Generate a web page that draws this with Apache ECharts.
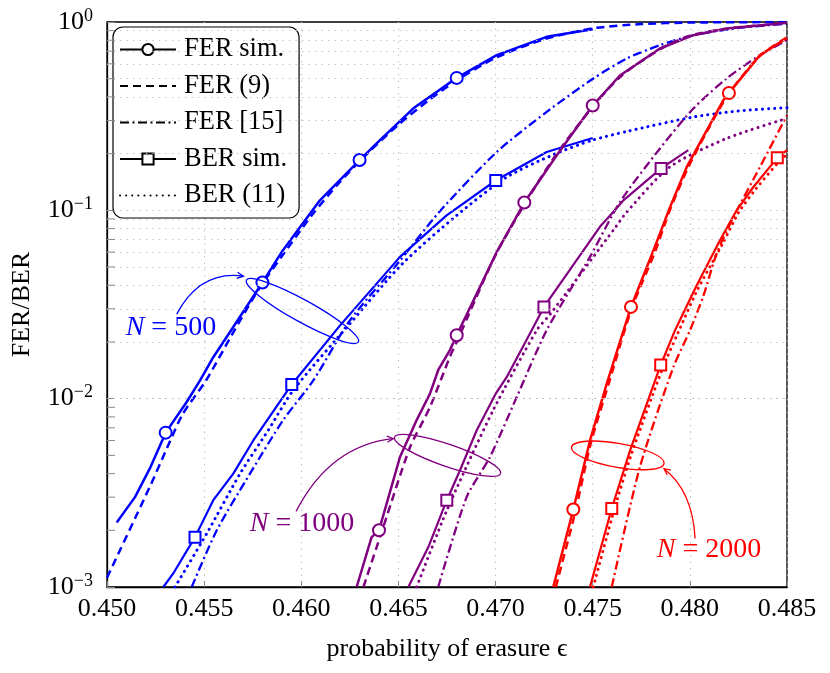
<!DOCTYPE html>
<html><head><meta charset="utf-8">
<script src="https://cdn.jsdelivr.net/npm/echarts@6/dist/echarts.min.js"></script>
<style>html,body{margin:0;padding:0;background:#fff}#c{width:830px;height:673px}</style>
</head><body><div id="c"></div>
<script>
// ---------------- data (epsilon, value) ----------------
const blueFerSim = [[0.4505,0.0022],[0.45144,0.0030],[0.4522,0.00425],[0.45302,0.0066],[0.4541,0.0096],[0.45479,0.0125],[0.45547,0.0166],[0.4565,0.024],[0.458,0.0414],[0.45899,0.060],[0.46096,0.113],[0.463,0.185],[0.46405,0.236],[0.46577,0.348],[0.468,0.505],[0.47006,0.667],[0.47263,0.834],[0.475,0.916]];
const blueFerSimMarks = [0.45302,0.458,0.463,0.468];
const blueFer9 = [[0.4500,0.00112],[0.4522,0.0034],[0.4531,0.0055],[0.4539,0.0083],[0.4551,0.0125],[0.4565,0.0225],[0.4578,0.038],[0.4590,0.057],[0.4605,0.093],[0.4620,0.142],[0.4635,0.205],[0.4650,0.285],[0.4665,0.38],[0.4680,0.49],[0.4700,0.645],[0.4725,0.81],[0.4750,0.925],[0.4775,0.975],[0.4800,0.993],[0.4850,1.0]];
const blueFer15 = [[0.45436,0.001],[0.45565,0.002],[0.45736,0.004],[0.45907,0.0077],[0.46062,0.0125],[0.4625,0.026],[0.46508,0.054],[0.4671,0.098],[0.47006,0.204],[0.47263,0.333],[0.47503,0.501],[0.47675,0.64],[0.47846,0.753],[0.48018,0.851],[0.4825,0.93],[0.485,0.98]];
const blueBerSim = [[0.4529,0.001],[0.45341,0.00118],[0.45453,0.00184],[0.45547,0.00289],[0.4565,0.0040],[0.45753,0.0060],[0.4586,0.0087],[0.45951,0.0119],[0.4620,0.0245],[0.46508,0.0566],[0.46748,0.094],[0.47001,0.144],[0.47263,0.204],[0.475,0.242]];
const blueBerSimMarks = [0.45453,0.45951,0.47001];
const blueBer11 = [[0.4535,0.001],[0.45513,0.00192],[0.45685,0.0040],[0.4583,0.0068],[0.45959,0.0111],[0.4625,0.025],[0.4652,0.052],[0.468,0.094],[0.47057,0.150],[0.4730,0.198],[0.475,0.236],[0.4768,0.263],[0.48018,0.313],[0.4825,0.337],[0.485,0.351]];

const purpleFerSim = [[0.46285,0.001],[0.46362,0.00184],[0.464,0.0020],[0.46508,0.0049],[0.46594,0.0077],[0.46662,0.0106],[0.46705,0.0142],[0.46765,0.0181],[0.468,0.0217],[0.47006,0.060],[0.47148,0.110],[0.47315,0.196],[0.475,0.36],[0.4764,0.52],[0.47846,0.723],[0.48018,0.851],[0.4819,0.924],[0.485,0.99]];
const purpleFerSimMarks = [0.464,0.468,0.47148,0.475];
const purpleFer9 = [[0.4632,0.001],[0.46422,0.00208],[0.46559,0.0055],[0.46662,0.009],[0.46765,0.0167],[0.4680,0.020],[0.4700,0.058],[0.4715,0.108],[0.4730,0.190],[0.4750,0.355],[0.4765,0.52],[0.4785,0.72],[0.4800,0.845],[0.4820,0.925],[0.4850,0.985]];
const purpleFer15 = [[0.46705,0.001],[0.46851,0.0030],[0.46971,0.0049],[0.47109,0.0102],[0.47263,0.0231],[0.47486,0.0566],[0.47641,0.111],[0.47846,0.213],[0.48018,0.347],[0.4819,0.502],[0.48361,0.667],[0.485,0.80]];
const purpleBerSim = [[0.46551,0.001],[0.46654,0.00163],[0.46749,0.00289],[0.46817,0.00417],[0.46903,0.0068],[0.47,0.0106],[0.47057,0.013],[0.47186,0.0231],[0.47249,0.0307],[0.47538,0.082],[0.47606,0.098],[0.47658,0.113],[0.47852,0.167],[0.47992,0.209]];
const purpleBerSimMarks = [0.46749,0.47249,0.47852];
const purpleBer11 = [[0.46594,0.001],[0.46749,0.00255],[0.46988,0.0087],[0.47212,0.0231],[0.4728,0.028],[0.4762,0.082],[0.47675,0.098],[0.47897,0.17],[0.4819,0.241],[0.485,0.308]];

const redFerSim = [[0.47297,0.001],[0.474,0.00258],[0.47486,0.0060],[0.47572,0.012],[0.47697,0.0307],[0.47812,0.061],[0.47898,0.104],[0.47984,0.17],[0.48087,0.266],[0.48172,0.384],[0.48201,0.42],[0.48361,0.667],[0.485,0.824]];
const redFerSimMarks = [0.474,0.47697,0.48201];
const redFer9 = [[0.4731,0.001],[0.4741,0.0025],[0.4749,0.0058],[0.4758,0.0118],[0.4770,0.030],[0.4782,0.060],[0.4790,0.102],[0.4799,0.168],[0.4809,0.265],[0.4820,0.415],[0.4836,0.66],[0.4850,0.83]];
const redFer15 = [[0.47598,0.001],[0.47743,0.00434],[0.47915,0.0147],[0.48001,0.0231],[0.48069,0.035],[0.48138,0.059],[0.48224,0.092],[0.48361,0.17],[0.485,0.32]];
const redBerSim = [[0.47486,0.001],[0.47598,0.00261],[0.47692,0.0053],[0.4785,0.0151],[0.47924,0.0231],[0.48031,0.0392],[0.48155,0.0694],[0.48241,0.10],[0.48327,0.133],[0.4845,0.19],[0.485,0.209]];
const redBerSimMarks = [0.47598,0.4785,0.4845];
const redBer11 = [[0.47503,0.001],[0.4761,0.00255],[0.4770,0.0051],[0.4786,0.0145],[0.4794,0.0225],[0.4804,0.038],[0.4817,0.067],[0.4825,0.097],[0.4834,0.13],[0.4846,0.182],[0.485,0.198]];

const legendNames = ['FER sim.','FER (9)','FER [15]','BER sim.','BER (11)'];
const yMinorValues = [0.002,0.003,0.004,0.005,0.006,0.007,0.008,0.009,0.02,0.03,0.04,0.05,0.06,0.07,0.08,0.09,0.2,0.3,0.4,0.5,0.6,0.7,0.8,0.9];
const yGridValues = yMinorValues.concat([0.01,0.1]);

// annotations in data coordinates
const annotations = [
  {label:'500', color:'#0000ff', text:[0.45329,0.0239], from:[0.45359,0.0281], ctrl:[0.45479,0.0481], to:[0.45702,0.0447], ell:[0.46006,0.0292], rx:64, ry:11, ang:29},
  {label:'1000', color:'#800080', text:[0.46004,0.00218], from:[0.45973,0.00252], ctrl:[0.46148,0.00566], to:[0.46474,0.00614], ell:[0.46753,0.0050], rx:56, ry:11, ang:19},
  {label:'2000', color:'#ff0000', text:[0.48099,0.00158], from:[0.48027,0.00181], ctrl:[0.48014,0.00324], to:[0.47867,0.00425], ell:[0.47629,0.0050], rx:47, ry:12, ang:10}
];

// ---------------- styles ----------------
const FONT = '"Liberation Serif","DejaVu Serif",serif';
const FS = 26;
const DASHED = [8,5];
const DASHDOT = [9,3.5,2,3.5];
const DOTTED = [0.1,6];
const SOLID = [1000,0];

function simSeries(pts, marks, color, symbol, size, width) {
  return {type:'line', silent:true, z:4,
    data: pts.map(p => marks.includes(p[0]) ? {value:p, symbol:symbol, symbolSize:size} : {value:p, symbol:'none'}),
    showSymbol:true, showAllSymbol:true,
    lineStyle:{color:color, width:width, type:SOLID, join:'round'},
    itemStyle:{color:color, borderColor:color, borderWidth:2.3}};
}
function theorySeries(pts, color, dash, width, cap) {
  return {type:'line', silent:true, z:3, data:pts, symbol:'none', smooth:0.25,
    lineStyle:{color:color, width:width, type:dash, cap:cap||'butt', join:'round'}};
}
function groupSeries(c, ferSim, ferSimM, fer9, fer15, berSim, berSimM, ber11) {
  return [
    theorySeries(fer15, c, DASHDOT, 2.3),
    theorySeries(ber11, c, DOTTED, 3, 'round'),
    theorySeries(fer9, c, DASHED, 2.5),
    simSeries(berSim, berSimM, c, 'emptyRect', 11, 2.2),
    simSeries(ferSim, ferSimM, c, 'emptyCircle', 12, 2.5)
  ];
}

const series = [];
// grid lines (dotted) through the log axis
series.push({type:'line', name:'grid', data:[], silent:true, z:1,
  markLine:{silent:true, animation:false, symbol:['none','none'], label:{show:false},
    lineStyle:{color:'#bdbdbd', type:[1.3,5.2], width:1.2},
    emphasis:{disabled:true},
    data: yGridValues.map(v => ({yAxis:v}))}});
series.push(...groupSeries('#0000ff', blueFerSim, blueFerSimMarks, blueFer9, blueFer15, blueBerSim, blueBerSimMarks, blueBer11));
series.push(...groupSeries('#800080', purpleFerSim, purpleFerSimMarks, purpleFer9, purpleFer15, purpleBerSim, purpleBerSimMarks, purpleBer11));
series.push(...groupSeries('#ff0000', redFerSim, redFerSimMarks, redFer9, redFer15, redBerSim, redBerSimMarks, redBer11));
// legend entries (black)
series.push({type:'line', name:legendNames[0], data:[], symbol:'emptyCircle', lineStyle:{color:'#000', width:2.4, type:SOLID}, itemStyle:{color:'#000'}});
series.push({type:'line', name:legendNames[1], data:[], symbol:'none', lineStyle:{color:'#000', width:2.5, type:DASHED}, itemStyle:{color:'#000'}});
series.push({type:'line', name:legendNames[2], data:[], symbol:'none', lineStyle:{color:'#000', width:2.2, type:DASHDOT}, itemStyle:{color:'#000'}});
series.push({type:'line', name:legendNames[3], data:[], symbol:'emptyRect', lineStyle:{color:'#000', width:2.4, type:SOLID}, itemStyle:{color:'#000'}});
series.push({type:'line', name:legendNames[4], data:[], symbol:'none', lineStyle:{color:'#000', width:2.8, type:DOTTED, cap:'round'}, itemStyle:{color:'#000'}});

const chart = echarts.init(document.getElementById('c'));
chart.setOption({
  animation:false,
  backgroundColor:'#fff',
  textStyle:{fontFamily:FONT, color:'#000'},
  grid:{left:107, right:43, top:22, bottom:86, show:true, borderColor:'#000', borderWidth:1.3, backgroundColor:'transparent'},
  legend:{
    orient:'vertical', left:113, top:27,
    data: legendNames.map((n,i) => (i===0||i===3) ? {name:n} : {name:n, itemStyle:{opacity:0}}),
    itemWidth:56, itemHeight:14, itemGap:9.5,
    padding:[9,12,9,6],
    backgroundColor:'#fff', borderColor:'#000', borderWidth:1.2, borderRadius:10,
    textStyle:{fontFamily:FONT, fontSize:26.5, color:'#000', padding:[0,0,0,3]},
    selectedMode:false
  },
  xAxis:{type:'value', min:0.45, max:0.485, interval:0.005,
    name:'probability of erasure \u03f5', nameLocation:'middle', nameGap:49,
    nameTextStyle:{fontFamily:FONT, fontSize:FS, color:'#000'},
    axisLine:{show:true, lineStyle:{color:'#000', width:1.3}},
    axisTick:{show:true, inside:true, length:6, lineStyle:{color:'#888'}},
    axisLabel:{fontFamily:FONT, fontSize:FS, color:'#000', margin:9, formatter:v => v.toFixed(3)},
    splitLine:{show:true, lineStyle:{color:'#bdbdbd', type:[1.3,5.2], width:1.2}}
  },
  yAxis:{type:'log', logBase:10, min:0.001, max:1,
    name:'FER/BER', nameLocation:'middle', nameGap:72, nameRotate:90,
    nameTextStyle:{fontFamily:FONT, fontSize:FS, color:'#000'},
    axisLine:{show:true, lineStyle:{color:'#000', width:1.3}},
    axisTick:{show:true, inside:true, length:8, lineStyle:{color:'#888'}},
    axisLabel:{margin:14, color:'#000',
      formatter: v => { const e = Math.round(Math.log10(v)); return '{b|10}{s|' + (e < 0 ? '\u2212' + (-e) : e) + '}'; },
      rich:{b:{fontFamily:FONT, fontSize:FS, lineHeight:30, color:'#000'},
            s:{fontFamily:FONT, fontSize:18, lineHeight:18, verticalAlign:'top', color:'#000'}}},
    splitLine:{show:false}
  },
  series: series
});

// annotations and minor ticks placed through the axes
function px(p){ return chart.convertToPixel({xAxisIndex:0, yAxisIndex:0}, p); }
const g = [];
const x0 = chart.convertToPixel({xAxisIndex:0}, 0.45);
yMinorValues.forEach(v => {
  const y = chart.convertToPixel({yAxisIndex:0}, v);
  g.push({type:'line', silent:true, z:5, shape:{x1:x0, y1:y, x2:x0+8, y2:y}, style:{stroke:'#888', lineWidth:1}});
});
annotations.forEach(a => {
  const c = px(a.ell);
  g.push({type:'ellipse', silent:true, z:6, x:c[0], y:c[1], rotation:-a.ang*Math.PI/180,
    shape:{cx:0, cy:0, rx:a.rx, ry:a.ry}, style:{fill:null, stroke:a.color, lineWidth:1.3}});
  const p0 = px(a.from), cp = px(a.ctrl), p2 = px(a.to);
  g.push({type:'bezierCurve', silent:true, z:6, shape:{x1:p0[0], y1:p0[1], x2:p2[0], y2:p2[1], cpx1:cp[0], cpy1:cp[1]},
    style:{fill:null, stroke:a.color, lineWidth:1.3}});
  let dx = p2[0]-cp[0], dy = p2[1]-cp[1]; const L = Math.hypot(dx,dy); dx/=L; dy/=L;
  const hl = 7, th = 0.45;
  const rot = (ang) => [-(dx*Math.cos(ang) - dy*Math.sin(ang))*hl, -(dx*Math.sin(ang) + dy*Math.cos(ang))*hl];
  const r1 = rot(th), r2 = rot(-th);
  g.push({type:'polyline', silent:true, z:6, shape:{points:[[p2[0]+r1[0], p2[1]+r1[1]],[p2[0],p2[1]],[p2[0]+r2[0], p2[1]+r2[1]]]},
    style:{fill:null, stroke:a.color, lineWidth:1.3}});
  const t = px(a.text);
  g.push({type:'text', silent:true, z:6, x:t[0], y:t[1],
    style:{text:'{i|N} {r|= ' + a.label + '}', align:'center', verticalAlign:'middle',
      fontFamily:FONT, fontSize:28, fill:a.color,
      rich:{i:{fontFamily:FONT, fontSize:28, fontStyle:'italic', fill:a.color},
            r:{fontFamily:FONT, fontSize:28, fill:a.color}}}});
});
chart.setOption({graphic:g});
</script>
</body></html>
